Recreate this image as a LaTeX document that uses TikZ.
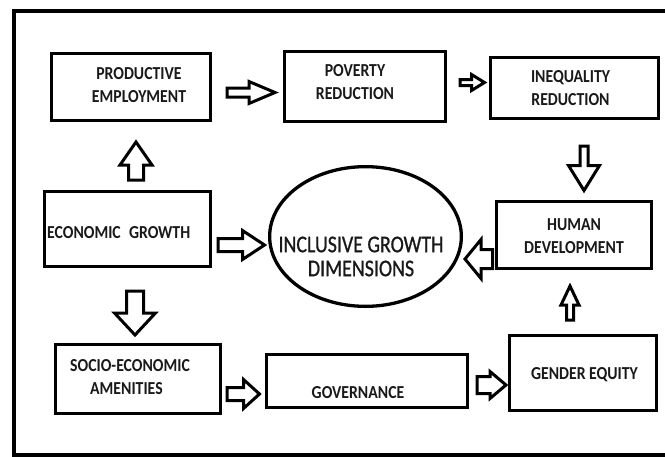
\documentclass[tikz,border=0pt]{standalone}
\usepackage{fontspec}
\newfontfamily\cfont{Carlito}[FakeStretch=0.86]
\newfontfamily\gfont{Carlito}[FakeStretch=0.83, FakeBold=0.8]
\usetikzlibrary{calc,shapes.geometric}
\tikzset{
  box/.style={draw, line width=3.3pt, rectangle, inner sep=0pt},
  lbl/.style={font=\cfont\bfseries\fontsize{18.3}{23}\selectfont, inner sep=0pt, align=center, text=black!90},
  biglbl/.style={font=\gfont\fontsize{24}{24}\selectfont, inner sep=0pt, align=center, text=black!90},
  barrow/.style={draw, line width=3pt, fill=white, line join=miter},
  frame/.style={draw, line width=4pt},
}
% #1 tail, #2 tip, #3 shaft half width, #4 head half width, #5 head length
\newcommand\blockarrow[5]{%
  \coordinate (ba-h) at ($(#2)!#5!(#1)$);
  \draw[barrow] ($(#1)!#3!90:(#2)$) -- ($(ba-h)!#3!90:(#2)$) -- ($(ba-h)!#4!90:(#2)$)
    -- (#2) -- ($(ba-h)!#4!-90:(#2)$) -- ($(ba-h)!#3!-90:(#2)$) -- ($(#1)!#3!-90:(#2)$) -- cycle;
}
\begin{document}
\begin{tikzpicture}[x=1pt,y=-1pt]
\useasboundingbox (0,0) rectangle (665,456);
\fill[white] (0,0) rectangle (665,456);
\draw[frame] (13.5,10.5) rectangle (680,455);

% boxes
\node[box, minimum width=158.7pt, minimum height=66.7pt] (pe) at (131,87) {};
\node[box, minimum width=160.7pt, minimum height=69.7pt] (pr) at (365,86.5) {};
\node[box, minimum width=167.7pt, minimum height=60.7pt] (ir) at (574.5,88) {};
\node[box, minimum width=165.7pt, minimum height=74.7pt] (eg) at (127.5,229) {};
\node[box, minimum width=154.7pt, minimum height=66.7pt] (hd) at (574,235) {};
\node[box, minimum width=164.7pt, minimum height=68.7pt] (sea) at (138,379) {};
\node[box, minimum width=200.7pt, minimum height=52.7pt] (gov) at (367,381) {};
\node[box, minimum width=146.7pt, minimum height=74.7pt] (ge) at (583,373) {};
\node[ellipse, draw, line width=3.3pt, minimum width=191.7pt, minimum height=139.7pt, inner sep=0pt] (ig) at (365.5,236.5) {};

% texts
\node[lbl] (pe-t) at (139,85.5) {PRODUCTIVE\\EMPLOYMENT};
\node[lbl] (pr-t) at (355,82) {POVERTY\\REDUCTION};
\node[lbl] (ir-t) at (570.5,88) {INEQUALITY\\REDUCTION};
\node[lbl, anchor=base west] (eg-t) at (47,238) {ECONOMIC\hspace{0.45em}GROWTH};
\node[lbl] (hd-t) at (574,236.5) {HUMAN\\DEVELOPMENT};
\node[lbl, align=left, anchor=west] (sea-t) at (70,377.5) {SOCIO-ECONOMIC\\\hspace*{20pt}AMENITIES};
\node[lbl, anchor=base] (gov-t) at (358,398) {GOVERNANCE};
\node[lbl, anchor=base] (ge-t) at (584.5,379.5) {GENDER EQUITY};
\node[biglbl] (ig-t) at (361,256.5) {INCLUSIVE GROWTH\\DIMENSIONS};

% connector end points
\coordinate (a1t) at ($(pe.east)+(15,5.5)$);
\coordinate (a1p) at ($(pr.west)+(-8,6)$);
\coordinate (a2t) at ($(pr.east)+(13,-4)$);
\coordinate (a2p) at ($(ir.west)+(-4.5,-5.5)$);
\coordinate (a3t) at ($(eg.north)+(8.5,-10)$);
\coordinate (a3p) at ($(pe.south)+(5,20)$);
\coordinate (a4t) at ($(ir.south)+(9.5,26)$);
\coordinate (a4p) at ($(hd.north)+(10,-9.5)$);
\coordinate (a5t) at ($(eg.east)+(6,16)$);
\coordinate (a5p) at ($(ig.west)+(-3.5,8.5)$);
\coordinate (a6t) at ($(hd.west)+(-2.5,24)$);
\coordinate (a6p) at ($(ig.east)+(2,22.5)$);
\coordinate (a7t) at ($(eg.south)+(7.5,23)$);
\coordinate (a7p) at ($(sea.north)+(-3,-8)$);
\coordinate (a8t) at ($(ge.north)+(-13,-14)$);
\coordinate (a8p) at ($(hd.south)+(-4,16)$);
\coordinate (a9t) at ($(sea.east)+(5,15)$);
\coordinate (a9p) at ($(gov.west)+(-5.5,13)$);
\coordinate (a10t) at ($(gov.east)+(8,4)$);
\coordinate (a10p) at ($(ge.west)+(-2,12)$);

% block arrows
\blockarrow{a1t}{a1p}{4.5pt}{11pt}{26pt}
\blockarrow{a2t}{a2p}{3pt}{8pt}{13pt}
\blockarrow{a3t}{a3p}{7.5pt}{16pt}{23pt}
\blockarrow{a4t}{a4p}{4pt}{15.5pt}{25pt}
\blockarrow{a5t}{a5p}{6.5pt}{14.5pt}{22pt}
\blockarrow{a6t}{a6p}{9.5pt}{19.5pt}{16pt}
\blockarrow{a7t}{a7p}{8.5pt}{20.5pt}{22pt}
\blockarrow{a8t}{a8p}{3.5pt}{9pt}{19pt}
\blockarrow{a9t}{a9p}{6.5pt}{14.5pt}{16pt}
\blockarrow{a10t}{a10p}{8.5pt}{13.5pt}{16pt}
\end{tikzpicture}
\end{document}
